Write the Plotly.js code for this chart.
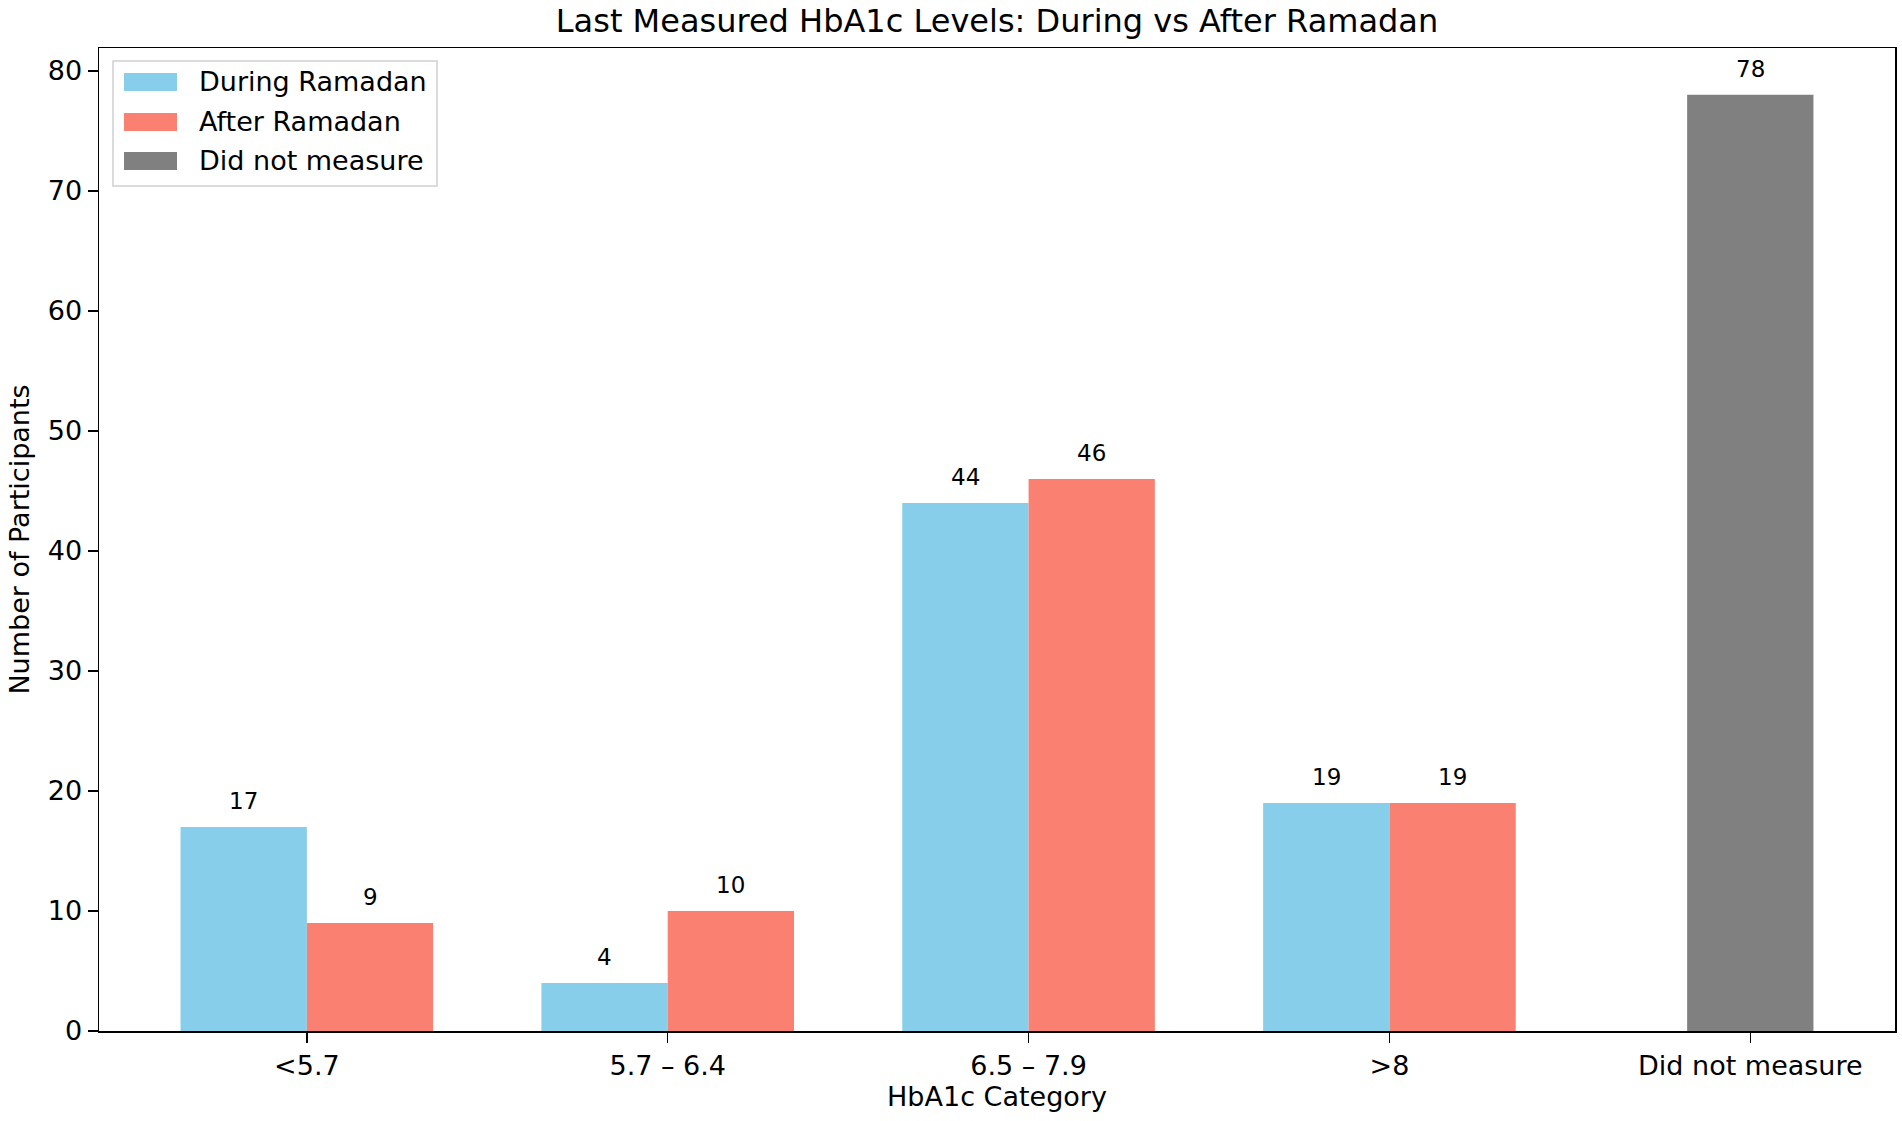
<!DOCTYPE html>
<html>
<head>
<meta charset="utf-8">
<script src="https://cdn.plot.ly/plotly-3.0.1.min.js"></script>
<style>html,body{margin:0;padding:0;background:#fff;}#chart{width:1902px;height:1121px;}</style>
</head>
<body>
<div id="chart"></div>
<script>
const categories = ["<5.7", "5.7 – 6.4", "6.5 – 7.9", ">8", "Did not measure"];
const measuredIdx = [0, 1, 2, 3];
const duringRamadan = [17, 4, 44, 19];
const afterRamadan = [9, 10, 46, 19];
const notMeasuredIdx = [4];
const didNotMeasure = [78];
const seriesNames = ["During Ramadan", "After Ramadan", "Did not measure"];
const colors = ["#87CEEB", "#FA8072", "#808080"];

const BW = 0.35;
const FONT = "DejaVu Sans, sans-serif";
const esc = s => s.replace(/&/g, "&amp;").replace(/</g, "&lt;").replace(/>/g, "&gt;");

const traces = [
  {type: "bar", name: seriesNames[0], x: measuredIdx, y: duringRamadan, width: BW, offset: -BW,
   marker: {color: colors[0], line: {width: 0}}, hoverinfo: "y"},
  {type: "bar", name: seriesNames[1], x: measuredIdx, y: afterRamadan, width: BW, offset: 0,
   marker: {color: colors[1], line: {width: 0}}, hoverinfo: "y"},
  {type: "bar", name: seriesNames[2], x: notMeasuredIdx, y: didNotMeasure, width: BW, offset: -BW / 2,
   marker: {color: colors[2], line: {width: 0}}, hoverinfo: "y"}
];

const annotations = [];
function addLabels(xs, ys, centerShift) {
  xs.forEach((x, i) => {
    annotations.push({x: x + centerShift, y: ys[i], xref: "x", yref: "y", text: String(ys[i]),
      showarrow: false, yanchor: "bottom", yshift: 11, font: {family: FONT, size: 23, color: "#000"}});
  });
}
addLabels(measuredIdx, duringRamadan, -BW / 2);
addLabels(measuredIdx, afterRamadan, BW / 2);
addLabels(notMeasuredIdx, didNotMeasure, 0);

// Legend drawn in paper space (matplotlib-style wide swatches)
const PL = 99, PW = 1796, PB = 1031, PH = 983;
const px = v => (v - PL) / PW;
const py = v => (PB - v) / PH;
const shapes = [{type: "rect", xref: "paper", yref: "paper", x0: px(113), x1: px(437), y0: py(186), y1: py(61),
  line: {color: "#d0d0d0", width: 1.5}, fillcolor: "rgba(255,255,255,0.85)", layer: "above"}];
const legendRows = [82, 122, 161];
seriesNames.forEach((name, i) => {
  const cy = legendRows[i];
  shapes.push({type: "rect", xref: "paper", yref: "paper", x0: px(124), x1: px(177), y0: py(cy + 9), y1: py(cy - 9),
    line: {width: 0}, fillcolor: colors[i], layer: "above"});
  annotations.push({xref: "paper", yref: "paper", x: px(197), y: py(cy), xanchor: "left", yanchor: "middle",
    text: name, showarrow: false, font: {family: FONT, size: 27, color: "#000"}});
});

const layout = {
  width: 1902, height: 1121,
  margin: {l: 99, r: 7, t: 48, b: 90, pad: 0},
  paper_bgcolor: "#fff", plot_bgcolor: "#fff",
  font: {family: FONT, color: "#000", size: 27},
  barmode: "overlay",
  showlegend: false,
  title: {text: "Last Measured HbA1c Levels: During vs After Ramadan", font: {family: FONT, size: 32, color: "#000"},
          xref: "paper", x: 0.5, xanchor: "center", yref: "paper", y: 1, yanchor: "bottom", pad: {b: 16}},
  xaxis: {
    range: [-0.576, 4.401], tickmode: "array", tickvals: categories.map((c, i) => i),
    ticktext: categories.map(esc), ticks: "outside", ticklen: 10, tickwidth: 1.5, tickcolor: "#000",
    showline: true, linecolor: "#000", linewidth: 1.5, mirror: true, showgrid: false, zeroline: false,
    tickfont: {family: FONT, size: 27, color: "#000"},
    title: {text: "HbA1c Category", font: {family: FONT, size: 27, color: "#000"}, standoff: 4}
  },
  yaxis: {
    range: [0, 81.9], tickmode: "linear", tick0: 0, dtick: 10, ticks: "outside", ticklen: 10, tickwidth: 1.5,
    tickcolor: "#000", showline: true, linecolor: "#000", linewidth: 1.5, mirror: true, showgrid: false,
    zeroline: false, tickfont: {family: FONT, size: 27, color: "#000"},
    title: {text: "Number of Participants", font: {family: FONT, size: 27, color: "#000"}, standoff: 10}
  },
  shapes: shapes,
  annotations: annotations
};

Plotly.newPlot("chart", traces, layout, {displayModeBar: false, staticPlot: true});
</script>
</body>
</html>
